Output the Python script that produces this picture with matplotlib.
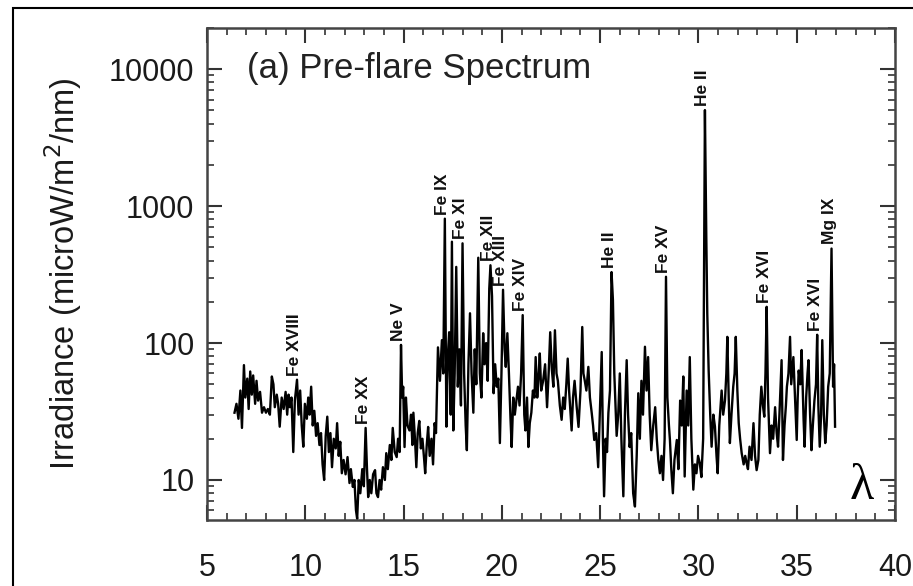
import matplotlib
matplotlib.use('Agg')
import matplotlib.pyplot as plt
import numpy as np
from matplotlib.patches import Rectangle
from matplotlib.ticker import FixedLocator, LogLocator, NullFormatter

plt.rcParams['font.family'] = ['Liberation Sans', 'DejaVu Sans']

# Pre-flare solar EUV spectrum, wavelength (nm) and irradiance (microW/m^2/nm)
wavelength = [
    6.40, 6.50, 6.60, 6.70, 6.78, 6.88, 6.95, 7.05, 7.12, 7.20, 7.28, 7.35, 7.45, 7.52, 7.60,
    7.70, 7.80, 7.90, 8.00, 8.10, 8.20, 8.30, 8.38, 8.45, 8.55, 8.62, 8.70, 8.80, 8.90, 9.00,
    9.08, 9.15, 9.22, 9.30, 9.39, 9.47, 9.58, 9.66, 9.74, 9.82, 9.90, 9.98, 10.08, 10.15, 10.22,
    10.30, 10.38, 10.46, 10.55, 10.63, 10.72, 10.80, 10.88, 10.96, 11.04, 11.12, 11.20, 11.28, 11.36, 11.45,
    11.55, 11.62, 11.70, 11.78, 11.86, 11.95, 12.05, 12.15, 12.25, 12.32, 12.42, 12.50, 12.58, 12.64, 12.72,
    12.80, 12.90, 12.98, 13.07, 13.14, 13.20, 13.28, 13.36, 13.45, 13.55, 13.62, 13.70, 13.78, 13.86, 13.95,
    14.05, 14.12, 14.20, 14.30, 14.38, 14.45, 14.55, 14.65, 14.72, 14.80, 14.87, 14.93, 14.98, 15.05, 15.12,
    15.20, 15.30, 15.38, 15.45, 15.50, 15.58, 15.65, 15.72, 15.80, 15.88, 15.96, 16.05, 16.10, 16.18, 16.25,
    16.33, 16.42, 16.50, 16.58, 16.65, 16.75, 16.85, 16.95, 17.02, 17.10, 17.18, 17.25, 17.32, 17.40, 17.46,
    17.53, 17.60, 17.68, 17.76, 17.84, 17.92, 18.00, 18.08, 18.16, 18.22, 18.30, 18.38, 18.46, 18.55, 18.62,
    18.70, 18.80, 18.88, 18.96, 19.05, 19.12, 19.20, 19.28, 19.36, 19.42, 19.50, 19.58, 19.66, 19.74, 19.82,
    19.90, 19.98, 20.06, 20.14, 20.20, 20.28, 20.36, 20.44, 20.50, 20.58, 20.66, 20.74, 20.82, 20.90, 20.98,
    21.06, 21.14, 21.20, 21.28, 21.35, 21.42, 21.50, 21.58, 21.66, 21.72, 21.80, 21.86, 21.93, 22.00, 22.10,
    22.20, 22.30, 22.38, 22.46, 22.54, 22.62, 22.70, 22.78, 22.85, 22.95, 23.04, 23.12, 23.20, 23.28, 23.35,
    23.42, 23.50, 23.55, 23.62, 23.70, 23.80, 23.90, 24.00, 24.09, 24.15, 24.22, 24.30, 24.40, 24.48, 24.57,
    24.64, 24.70, 24.80, 24.90, 24.98, 25.08, 25.14, 25.20, 25.28, 25.35, 25.42, 25.50, 25.58, 25.65, 25.72,
    25.78, 25.84, 25.92, 26.00, 26.08, 26.18, 26.26, 26.35, 26.42, 26.50, 26.58, 26.68, 26.77, 26.86, 26.94,
    27.02, 27.10, 27.18, 27.28, 27.36, 27.44, 27.52, 27.60, 27.70, 27.80, 27.88, 27.96, 28.04, 28.12, 28.20,
    28.28, 28.35, 28.42, 28.50, 28.55, 28.62, 28.70, 28.78, 28.90, 28.98, 29.07, 29.15, 29.23, 29.30, 29.40,
    29.48, 29.56, 29.64, 29.74, 29.82, 29.90, 29.98, 30.07, 30.15, 30.24, 30.33, 30.40, 30.45, 30.52, 30.60,
    30.67, 30.76, 30.84, 30.92, 30.98, 31.06, 31.18, 31.26, 31.35, 31.42, 31.47, 31.54, 31.60, 31.68, 31.77,
    31.84, 31.90, 31.98, 32.05, 32.12, 32.20, 32.30, 32.38, 32.45, 32.52, 32.60, 32.70, 32.80, 32.88, 32.96,
    33.05, 33.12, 33.20, 33.28, 33.35, 33.41, 33.47, 33.54, 33.64, 33.72, 33.80, 33.90, 33.98, 34.05, 34.12,
    34.18, 34.23, 34.30, 34.38, 34.45, 34.50, 34.58, 34.66, 34.72, 34.83, 34.90, 35.00, 35.05, 35.10, 35.18,
    35.25, 35.32, 35.35, 35.40, 35.48, 35.55, 35.60, 35.68, 35.75, 35.82, 35.90, 35.98, 36.04, 36.10, 36.17,
    36.24, 36.30, 36.38, 36.45, 36.52, 36.60, 36.68, 36.77, 36.82, 36.85, 36.90, 36.95,
]
irradiance = [
    31, 36, 28, 45, 24, 69, 40, 55, 33, 62, 42, 58, 36, 53, 38,
    44, 31, 34, 31, 33, 30, 57, 50, 34, 42, 36, 24.5, 40, 33, 44,
    30, 42, 34, 40, 16, 38, 54, 30, 45, 25, 17.5, 36, 28, 40, 30,
    48, 25, 32, 21, 26, 18, 22, 13, 10, 21, 29, 16, 22, 12.4, 20,
    17, 26, 15, 19, 11.2, 14, 11, 14.7, 9.5, 12, 8.9, 10, 6, 5.2, 10,
    8, 12, 9, 24, 12, 7.5, 10, 8, 11, 11.8, 8, 7.5, 10, 8.5, 12.4,
    10, 15.7, 12, 18, 14, 24, 16, 14.7, 20, 16, 97, 40, 48, 17.4, 40,
    25, 23, 30, 18, 31, 20, 12.4, 22, 27, 17, 20, 14, 11.2, 18, 24.4,
    15, 20, 13, 26, 22, 93, 53, 105, 60, 810, 24.5, 80, 120, 30, 550,
    23, 60, 360, 48, 90, 35, 535, 60, 25, 16.5, 70, 165, 60, 31, 90,
    50, 420, 60, 40, 118, 70, 100, 53, 250, 370, 220, 43, 70, 48, 55,
    18.6, 60, 245, 90, 67, 118, 60, 28, 17.4, 40, 30, 38, 48, 35, 60,
    160, 30, 23, 40, 17.4, 26, 31, 45, 40, 79, 40, 55, 84, 45, 53,
    70, 34, 60, 120, 65, 48, 124, 60, 53, 35, 27.5, 40, 33, 50, 77,
    45, 30, 23, 40, 53, 35, 24.4, 45, 131, 60, 53, 45, 67, 40, 31,
    25, 19.6, 22, 12.4, 30, 86, 20, 7.6, 20, 16, 31, 45, 330, 207, 60,
    35, 21, 30, 60, 20, 7.6, 30, 75, 30, 17.4, 22, 8, 6.4, 15, 43,
    20, 53, 30, 94, 45, 79, 30, 16.5, 25, 34, 20, 14, 11.2, 15, 10,
    20, 305, 40, 25, 19.6, 12, 8, 14, 19.6, 12, 38, 25, 57, 10.6, 45,
    25, 79, 20, 8.5, 13, 11.2, 15, 13.3, 10.5, 20, 5030, 600, 164, 63, 30,
    17.5, 30, 24.5, 15, 11.2, 25, 45, 30, 38, 60, 111, 40, 18.6, 30, 48,
    60, 111, 45, 26, 20, 15.7, 13, 15, 13.3, 12, 17.5, 14, 26, 15, 11.8,
    14, 30, 48, 35, 29, 60, 184, 40, 15.7, 25, 20, 34, 22, 17.5, 30,
    50, 75, 14, 25, 35, 48, 60, 111, 50, 79, 45, 19.6, 40, 63, 50,
    89, 40, 27.5, 17.5, 40, 60, 75, 30, 16.5, 25, 38, 50, 115, 35, 17.5,
    30, 105, 30, 18.6, 25, 48, 60, 490, 120, 48, 70, 24.5,
]

# emission line identifications
line_names = ['Fe XVIII', 'Fe XX', 'Ne V', 'Fe IX', 'Fe XI', 'Fe XII', 'Fe XIII', 'Fe XIV',
              'He II', 'Fe XV', 'He II', 'Fe XVI', 'Fe XVI', 'Mg IX']
line_wl = [9.58, 13.07, 14.87, 17.10, 18.00, 19.42, 20.06, 21.06,
           25.58, 28.35, 30.33, 33.47, 36.04, 36.77]

x_ticks = [5, 10, 15, 20, 25, 30, 35, 40]
y_ticks = [10, 100, 1000, 10000]

wl = np.array(wavelength)
irr = np.array(irradiance)

fig = plt.figure(figsize=(9.13, 5.86), dpi=100)
ax = fig.add_axes([0.2267, 0.1126, 0.7536, 0.8396])

ax.plot(wl, irr, color='black', linewidth=1.7)
ax.set_yscale('log')
ax.set_xlim(5, 40)
ax.set_ylim(5.1, 20000)

ax.xaxis.set_major_locator(FixedLocator(x_ticks))
ax.xaxis.set_minor_locator(FixedLocator(np.arange(5, 41, 1)))
ax.yaxis.set_major_locator(FixedLocator(y_ticks))
ax.yaxis.set_minor_locator(LogLocator(base=10, subs=np.arange(2, 10)))
ax.yaxis.set_minor_formatter(NullFormatter())
ax.set_xticklabels([str(t) for t in x_ticks])
ax.set_yticklabels([str(t) for t in y_ticks])

ax.tick_params(which='both', direction='in', top=True, right=True, color='#333333')
ax.tick_params(which='major', length=11, width=1.5)
ax.tick_params(which='minor', length=5, width=1.2)
ax.tick_params(axis='x', which='major', labelsize=22, pad=24, labelcolor='#1a1a1a')
ax.tick_params(axis='y', which='major', labelsize=22, pad=9, labelcolor='#1a1a1a')
for sp in ax.spines.values():
    sp.set_linewidth(1.8)
    sp.set_color('#444444')

ax.set_ylabel('Irradiance (microW/m$^2$/nm)', fontsize=23.5, color='#1a1a1a', labelpad=18)

ax.text(0.058, 0.918, '(a) Pre-flare Spectrum', transform=ax.transAxes,
        fontsize=25, color='#222222', ha='left', va='center')

# line labels sit just above each peak
for name, w in zip(line_names, line_wl):
    near = np.abs(wl - w) < 0.04
    top = irr[near].max()
    ax.annotate(name, xy=(w, top), xytext=(-1.5, 3), textcoords='offset points',
                rotation=90, ha='center', va='bottom', fontsize=12.5,
                color='#111111', fontweight='bold')

ax.text(0.952, 0.068, 'λ', transform=ax.transAxes, fontsize=36,
        family=['Liberation Serif', 'DejaVu Serif'], ha='center', va='center')

# frame around the whole panel
fig.patches.append(Rectangle((13 / 913, -0.05), 1.2, 1.05 - 8 / 586,
                             transform=fig.transFigure, fill=False,
                             edgecolor='black', linewidth=1.5))

fig.savefig('out.png', dpi=100)
